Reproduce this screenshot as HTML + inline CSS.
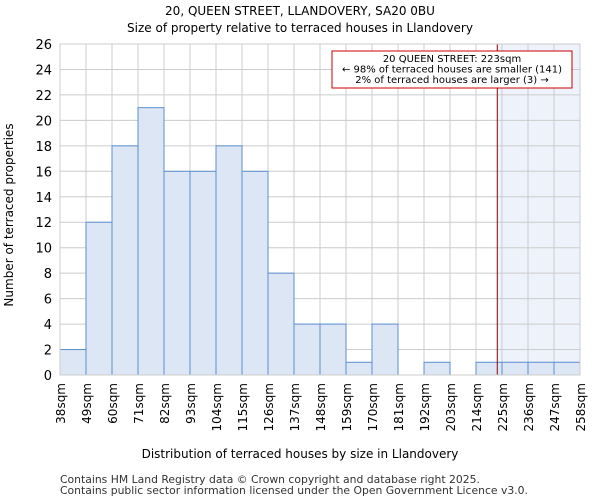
<!DOCTYPE html>
<html><head><meta charset="utf-8"><style>
body{margin:0;background:#fff;}
svg{display:block;font-family:"DejaVu Sans","Liberation Sans",sans-serif;}
</style></head><body>
<svg id="c" width="600" height="500">
<text x="300" y="15" text-anchor="middle" font-size="12">20, QUEEN STREET, LLANDOVERY, SA20 0BU</text>
<text x="300" y="32" text-anchor="middle" font-size="12">Size of property relative to terraced houses in Llandovery</text>
<g id="grid"></g><g id="bars"></g><g id="axes"></g>
<text x="300" y="458" text-anchor="middle" font-size="12">Distribution of terraced houses by size in Llandovery</text>
<text transform="translate(13,215) rotate(-90)" text-anchor="middle" font-size="12">Number of terraced properties</text>
<text x="60" y="483" font-size="10.8" fill="#333">Contains HM Land Registry data © Crown copyright and database right 2025.</text>
<text x="60" y="494" font-size="10.8" fill="#333">Contains public sector information licensed under the Open Government Licence v3.0.</text>
</svg>
<script>
const binLabels=["38sqm","49sqm","60sqm","71sqm","82sqm","93sqm","104sqm","115sqm","126sqm","137sqm","148sqm","159sqm","170sqm","181sqm","192sqm","203sqm","214sqm","225sqm","236sqm","247sqm","258sqm"];
const binStarts=[38,49,60,71,82,93,104,115,126,137,148,159,170,181,192,203,214,225,236,247];
const counts=[2,12,18,21,16,16,18,16,8,4,4,1,4,0,1,0,1,1,1,1];
const yTicks=[0,2,4,6,8,10,12,14,16,18,20,22,24,26];
const subjectSize=223;
const NS="http://www.w3.org/2000/svg";
const L=60,R=580,T=44,B=375,xMin=38,xMax=258,yMax=26;
const x=v=>L+(v-xMin)/(xMax-xMin)*(R-L);
const y=v=>B-v/yMax*(B-T);
function mk(t,a,p){const e=document.createElementNS(NS,t);for(const k in a)e.setAttribute(k,a[k]);p.appendChild(e);return e;}
const grid=document.getElementById('grid'),bars=document.getElementById('bars'),axes=document.getElementById('axes');
const sh=mk('rect',{x:x(subjectSize),y:T,width:R-x(subjectSize),height:B-T,fill:'#eef2fb'},grid);


yTicks.forEach(v=>{
 const g=mk('line',{x1:L,x2:R,y1:y(v),y2:y(v),stroke:'#ccc'},grid);
 
 
 const t=mk('text',{x:L-8,y:y(v)+5,'text-anchor':'end','font-size':13},axes);
 t.textContent=v;
 
 
});
binLabels.forEach((lab,i)=>{
 const v=xMin+i*11;
 const g=mk('line',{x1:x(v),x2:x(v),y1:T,y2:B,stroke:'#ccc'},grid);
 
 
 const t=mk('text',{transform:`translate(${x(v)+5},${B+8}) rotate(-90)`,'text-anchor':'end','font-size':12},axes);
 t.textContent=lab;
 
 
});
counts.forEach((c,i)=>{
 if(c<=0)return;
 const r=mk('rect',{x:x(binStarts[i]),y:y(c),width:x(binStarts[i]+11)-x(binStarts[i]),height:B-y(c),fill:'#dde6f4',stroke:'#5b8fd0','stroke-width':1},bars);
 
 
});
const ln=mk('line',{x1:x(subjectSize),x2:x(subjectSize),y1:T,y2:B,stroke:'#8b0000','stroke-width':1},axes);


const fr=mk('rect',{x:L,y:T,width:R-L,height:B-T,fill:'none',stroke:'#ccc'},axes);


const ab=mk('g',{},axes);


mk('rect',{x:332,y:51,width:240,height:37,fill:'#fff',stroke:'#cc0000'},ab);
["20 QUEEN STREET: 223sqm","← 98% of terraced houses are smaller (141)","2% of terraced houses are larger (3) →"].forEach((s,i)=>{
 const t=mk('text',{x:452,y:62+i*10.5,'text-anchor':'middle','font-size':10},ab);
 t.textContent=s;
 
 
});
</script>
</body></html>
